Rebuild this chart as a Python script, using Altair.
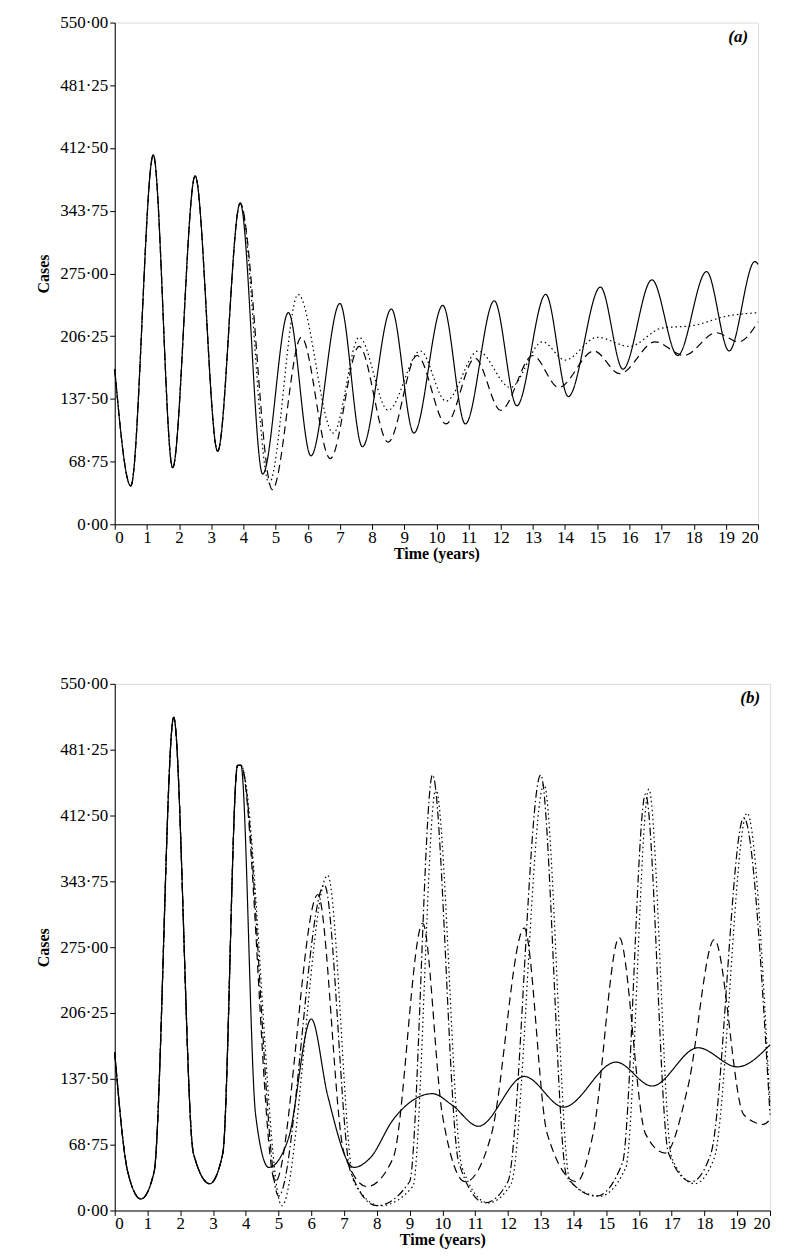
import altair as alt
import pandas as pd

common_t = [0, 0.5, 1.2, 1.8, 2.5, 3.2, 3.9]
common_v = [170, 42, 405, 62, 382, 80, 352]

a_solid_t = common_t + [4.6, 5.4, 6.1, 7.0, 7.7, 8.6, 9.3, 10.2, 10.9, 11.8, 12.5, 13.4, 14.1, 15.1, 15.8, 16.7, 17.5, 18.4, 19.1, 19.9, 20]
a_solid_v = common_v + [55, 232, 75, 242, 85, 236, 100, 240, 110, 245, 130, 252, 140, 260, 170, 268, 185, 277, 190, 288, 285]
a_dash_t = common_t + [4.9, 5.8, 6.7, 7.6, 8.5, 9.4, 10.3, 11.2, 12.0, 13.0, 13.8, 14.9, 15.7, 16.8, 17.7, 18.7, 19.4, 20]
a_dash_v = common_v + [38, 205, 72, 195, 90, 185, 110, 182, 125, 185, 150, 190, 165, 200, 185, 210, 200, 222]
a_dot_t = common_t + [4.8, 5.7, 6.8, 7.6, 8.5, 9.5, 10.3, 11.3, 12.3, 13.3, 14.0, 15.0, 16.0, 17.0, 18.0, 19.0, 20]
a_dot_v = common_v + [45, 252, 100, 205, 125, 190, 135, 190, 150, 200, 180, 205, 195, 215, 218, 228, 232]

bc_t = [0, 0.4, 0.8, 1.2, 1.8, 2.4, 2.9, 3.3, 3.75, 3.85]
bc_v = [165, 40, 12, 40, 515, 60, 28, 60, 465, 465]
b_solid_t = bc_t + [4.3, 4.7, 5.3, 6.0, 6.5, 7.3, 7.8, 8.5, 9.7, 10.3, 11.1, 12.5, 13.7, 15.3, 16.4, 17.8, 19.0, 20]
b_solid_v = bc_v + [100, 45, 75, 200, 120, 45, 55, 95, 122, 110, 88, 140, 108, 155, 130, 170, 150, 173]
b_dash_t = bc_t + [4.9, 6.2, 7.0, 7.7, 8.5, 9.4, 10.0, 10.7, 11.5, 12.5, 13.2, 14.1, 14.6, 15.4, 16.2, 16.8, 17.5, 18.3, 19.2, 19.8, 20]
b_dash_v = bc_v + [30, 330, 60, 25, 55, 300, 100, 30, 80, 295, 80, 30, 80, 285, 80, 60, 130, 283, 100, 90, 95]
b_dd_t = bc_t + [5.0, 6.4, 7.2, 8.0, 9.0, 9.7, 10.5, 11.3, 12.0, 13.0, 13.8, 14.7, 15.5, 16.2, 16.9, 17.6, 18.2, 19.2, 20]
b_dd_v = bc_v + [15, 340, 40, 5, 30, 455, 50, 8, 30, 455, 35, 15, 50, 435, 60, 30, 60, 410, 100]
b_dot_t = bc_t + [5.1, 6.5, 7.3, 8.1, 9.1, 9.8, 10.6, 11.4, 12.1, 13.1, 13.9, 14.8, 15.6, 16.3, 17.0, 17.7, 18.3, 19.3, 20]
b_dot_v = bc_v + [5, 350, 30, 5, 25, 440, 45, 8, 28, 445, 30, 15, 45, 440, 55, 28, 55, 415, 110]

def df(t, v, s):
    return pd.DataFrame({"t": t, "v": v, "s": s})

dashes = {"solid": [1, 0], "dash": [8, 5], "dot": [1.5, 3], "dashdot": [8, 3, 1.5, 3]}

FONT = "Liberation Serif"

def panel(series, label, w, h):
    data = pd.concat([df(*x) for x in series])
    x = alt.X("t:Q", scale=alt.Scale(domain=[0, 20], nice=False),
              axis=alt.Axis(values=list(range(21)), title="Time (years)", grid=False,
                            labelFont=FONT, titleFont=FONT, labelFontSize=17, titleFontSize=16,
                            labelColor="black", titleColor="black", domainColor="black",
                            tickColor="black", titleFontWeight="bold", labelPadding=0, titlePadding=0))
    y = alt.Y("v:Q", scale=alt.Scale(domain=[0, 550], nice=False),
              axis=alt.Axis(values=[0, 68.75, 137.5, 206.25, 275, 343.75, 412.5, 481.25, 550],
                            labelExpr="replace(format(datum.value, '.2f'), '.', '·')",
                            title="Cases", grid=False, labelFont=FONT, titleFont=FONT,
                            labelFontSize=17, titleFontSize=16, labelColor="black",
                            titleColor="black", domainColor="black", tickColor="black",
                            titleFontWeight="bold", titlePadding=8))
    layers = []
    for name in data["s"].unique():
        layers.append(alt.Chart(data[data["s"] == name]).mark_line(
            color="black", strokeWidth=1.2, strokeDash=dashes[name], interpolate="monotone"
        ).encode(x=x, y=y))
    txt = alt.Chart(pd.DataFrame({"l": [label]})).mark_text(
        font=FONT, fontSize=17, fontWeight="bold", fontStyle="italic", align="right", color="black"
    ).encode(x=alt.value(w - 10), y=alt.value(14), text="l:N")
    return alt.layer(*layers, txt).properties(width=w, height=h)

pa = panel([(a_solid_t, a_solid_v, "solid"), (a_dash_t, a_dash_v, "dash"), (a_dot_t, a_dot_v, "dot")], "(a)", 645, 503)
pb = panel([(b_solid_t, b_solid_v, "solid"), (b_dash_t, b_dash_v, "dash"),
            (b_dd_t, b_dd_v, "dashdot"), (b_dot_t, b_dot_v, "dot")], "(b)", 657, 528)

chart = alt.vconcat(pa, pb, spacing=112).properties(
    padding={"left": 27, "top": 3, "right": 5, "bottom": 5}
).configure_view(stroke="black", strokeWidth=1).configure(background="white")
chart.save("out.html", embed_options={"renderer": "svg", "actions": False})
